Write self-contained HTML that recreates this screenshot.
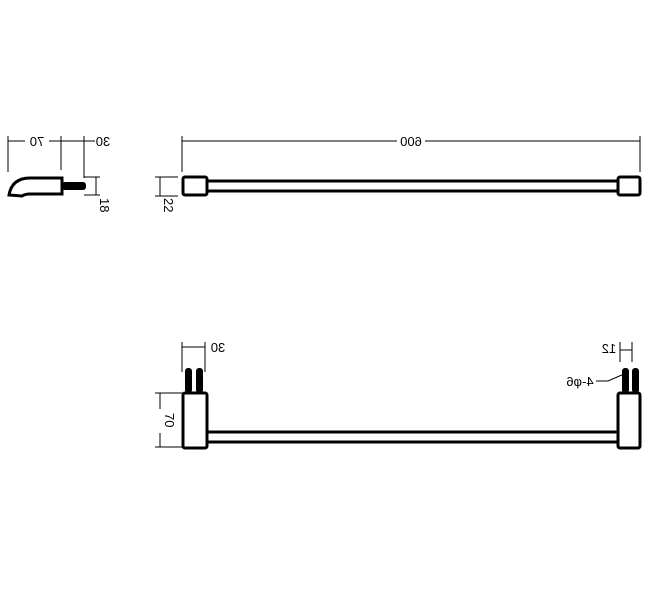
<!DOCTYPE html>
<html><head><style>body{margin:0;background:#fff}svg{display:block}text{font-family:"Liberation Sans",sans-serif;font-size:13px;fill:#000}</style></head>
<body>
<svg width="650" height="600" viewBox="0 0 650 600" xmlns="http://www.w3.org/2000/svg">
<g stroke="#000" fill="none" stroke-width="1">
<line x1="8" y1="141" x2="95" y2="141"/>
<line x1="8" y1="136" x2="8" y2="172"/>
<line x1="61" y1="136" x2="61" y2="170"/>
<line x1="84" y1="136" x2="84" y2="178"/>
<line x1="84" y1="177" x2="100" y2="177"/>
<line x1="84" y1="195" x2="100" y2="195"/>
<line x1="96" y1="177" x2="96" y2="195"/>
<line x1="182" y1="141" x2="640" y2="141"/>
<line x1="182" y1="136" x2="182" y2="172"/>
<line x1="640" y1="136" x2="640" y2="172"/>
<line x1="155" y1="177" x2="178" y2="177"/>
<line x1="155" y1="196" x2="178" y2="196"/>
<line x1="160" y1="177" x2="160" y2="196"/>
<line x1="182" y1="347" x2="205" y2="347"/>
<line x1="182" y1="342" x2="182" y2="372"/>
<line x1="205" y1="342" x2="205" y2="372"/>
<line x1="155" y1="393" x2="183" y2="393"/>
<line x1="155" y1="447" x2="183" y2="447"/>
<line x1="160" y1="393" x2="160" y2="447"/>
<line x1="620" y1="342" x2="620" y2="362"/>
<line x1="632" y1="342" x2="632" y2="362"/>
<line x1="620" y1="350" x2="632" y2="350"/>
<polyline points="624,374 608,381 596,381"/>
</g>
<g fill="#fff">
<rect x="25" y="134" width="24" height="14"/>
<rect x="397" y="134" width="28" height="14"/>
<rect x="153" y="409" width="14" height="24"/>
</g>
<g stroke="#000" fill="none" stroke-width="3">
<path d="M9,195 Q12,178 30,178 L62,178 L62,194 L30,194 Q25,194 22,196 Z"/>
<rect x="183" y="177" width="24" height="18" rx="2"/>
<rect x="618" y="177" width="22" height="18" rx="2"/>
<line x1="207" y1="181" x2="618" y2="181"/>
<line x1="207" y1="191" x2="618" y2="191"/>
<rect x="183" y="393" width="24" height="55" rx="2"/>
<rect x="618" y="393" width="22" height="55" rx="2"/>
<line x1="207" y1="432" x2="618" y2="432"/>
<line x1="207" y1="442" x2="618" y2="442"/>
</g>
<g fill="#000">
<rect x="62" y="182" width="24" height="8" rx="3"/>
<rect x="185" y="368" width="7" height="25" rx="3"/>
<rect x="196" y="368" width="7" height="25" rx="3"/>
<rect x="622" y="368" width="7" height="25" rx="3"/>
<rect x="632" y="368" width="7" height="25" rx="3"/>
</g>
<g>
<text transform="translate(37,146) scale(-1,1)" text-anchor="middle">70</text>
<text transform="translate(103,146) scale(-1,1)" text-anchor="middle">30</text>
<text transform="translate(411,146) scale(-1,1)" text-anchor="middle">600</text>
<text transform="translate(100,198) rotate(90)">18</text>
<text transform="translate(164,198) rotate(90)">22</text>
<text transform="translate(218,352) scale(-1,1)" text-anchor="middle">30</text>
<text transform="translate(165,413) rotate(90)">70</text>
<text transform="translate(609,353) scale(-1,1)" text-anchor="middle">12</text>
<text transform="translate(580,386) scale(-1,1)" text-anchor="middle">4-φ6</text>
</g>
</svg>
</body></html>
